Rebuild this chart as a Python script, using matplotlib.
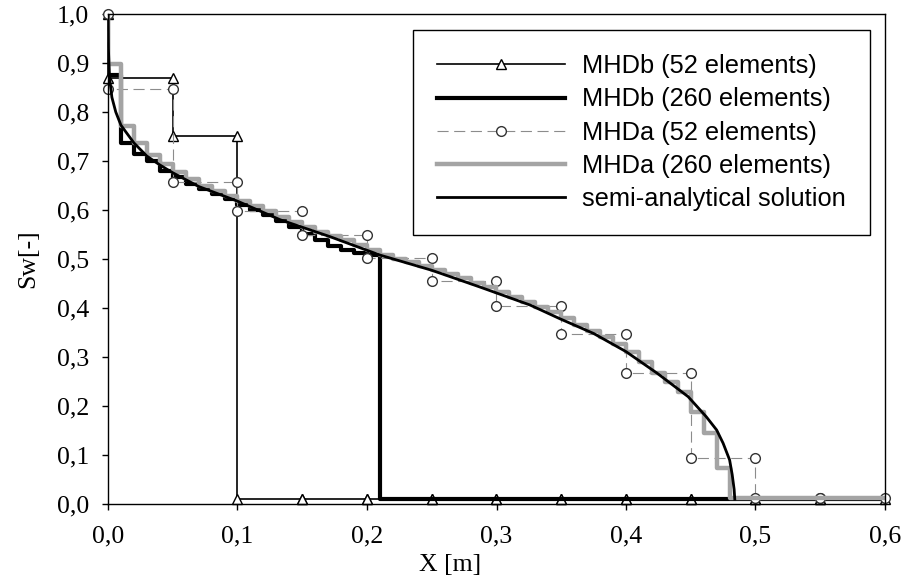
import matplotlib
matplotlib.use("Agg")
import matplotlib.pyplot as plt
from matplotlib.ticker import FuncFormatter
import numpy as np

# --- data ---
# coarse grid (52 elements), only the part 0..0.6 m is shown
x_coarse = np.linspace(0.0, 0.6, 13)
mhdb_52 = [0.870, 0.751] + [0.01] * 10
mhda_52 = [0.846, 0.658, 0.597, 0.548, 0.502, 0.456, 0.405, 0.347, 0.268, 0.094, 0.012, 0.012]

# fine grid (260 elements)
x_fine = np.linspace(0.0, 0.6, 61)
mhdb_260 = [0.875, 0.736, 0.714, 0.699, 0.680, 0.668, 0.654, 0.642, 0.632, 0.622,
            0.611, 0.600, 0.589, 0.578, 0.566, 0.552, 0.538, 0.527, 0.519, 0.513,
            0.508] + [0.01] * 39
mhda_260 = [0.898, 0.771, 0.736, 0.712, 0.694, 0.678, 0.663, 0.650, 0.639, 0.629,
            0.619, 0.608, 0.597, 0.586, 0.576, 0.566, 0.556, 0.547, 0.538, 0.528,
            0.518, 0.509, 0.501, 0.494, 0.486, 0.478, 0.470, 0.461, 0.452, 0.442,
            0.433, 0.423, 0.413, 0.403, 0.391, 0.379, 0.366, 0.354, 0.341, 0.327,
            0.310, 0.290, 0.267, 0.250, 0.229, 0.188, 0.144, 0.073] + [0.012] * 12
s_inlet = 1.0

# semi-analytical solution
sa_x = [0.0, 0.0003, 0.0012, 0.003, 0.006, 0.01, 0.02, 0.03, 0.04, 0.05, 0.07, 0.10,
        0.133, 0.171, 0.21, 0.25, 0.287, 0.326, 0.349, 0.375, 0.40, 0.424, 0.448,
        0.462, 0.470, 0.475, 0.480, 0.482, 0.4835, 0.484]
sa_y = [1.0, 0.93, 0.87, 0.83, 0.80, 0.773, 0.737, 0.710, 0.692, 0.676, 0.648, 0.618,
        0.580, 0.546, 0.508, 0.477, 0.443, 0.406, 0.378, 0.348, 0.311, 0.267, 0.219,
        0.178, 0.151, 0.124, 0.090, 0.060, 0.03, 0.01]


def stairs(edges, vals, start):
    # vertices of a piecewise constant profile, starting with the inlet value
    xs = np.concatenate([[edges[0]], np.repeat(edges, 2)[1:-1]])
    ys = np.concatenate([[start], np.repeat(vals, 2)])
    return xs, ys


fig = plt.figure(figsize=(9.02, 5.82), dpi=100)
ax = fig.add_axes([108 / 902, 1 - 504 / 582, 777 / 902, 490 / 582])

xs, ys = stairs(x_coarse, mhdb_52, s_inlet)
ax.plot(xs, ys, color='black', lw=1.2, marker='^', ms=6.5, mfc='white', mec='black', mew=1,
        label='MHDb (52 elements)', clip_on=False)
xs, ys = stairs(x_fine, mhdb_260, s_inlet)
ax.plot(xs, ys, color='black', lw=3, label='MHDb (260 elements)')
xs, ys = stairs(x_coarse, mhda_52, s_inlet)
ax.plot(xs, ys, color='#8c8c8c', lw=0.8, ls=(0, (10, 5)), marker='o', ms=7, mfc='white',
        mec='#333333', mew=1, label='MHDa (52 elements)', clip_on=False)
xs, ys = stairs(x_fine, mhda_260, s_inlet)
ax.plot(xs, ys, color='#a4a4a4', lw=3.2, label='MHDa (260 elements)')
ax.plot(sa_x, sa_y, color='black', lw=2, label='semi-analytical solution')

ax.set_xlim(0, 0.6)
ax.set_ylim(0, 1.0)
ax.set_xticks(np.arange(0, 0.61, 0.1))
ax.set_yticks(np.arange(0, 1.01, 0.1))
comma = FuncFormatter(lambda v, p: f"{v:.1f}".replace('.', ','))
ax.xaxis.set_major_formatter(comma)
ax.yaxis.set_major_formatter(comma)
ax.tick_params(direction='out', length=4.5, width=1, labelsize=18.5)
ax.tick_params(axis='x', pad=11)
ax.tick_params(axis='y', pad=9)
for lab in ax.get_xticklabels() + ax.get_yticklabels():
    lab.set_family('Liberation Serif')
for sp in ax.spines.values():
    sp.set_linewidth(1)

ax.set_xlabel('X [m]', family='Liberation Serif', fontsize=18.5)
ax.set_ylabel('Sw[-]', family='Liberation Serif', fontsize=18.5)
ax.xaxis.set_label_coords(0.44, -0.102)
ax.yaxis.set_label_coords(-0.088, 0.5)

leg = ax.legend(loc='upper right', bbox_to_anchor=(0.981, 0.967), borderaxespad=0,
                prop={'family': 'Liberation Sans', 'size': 18.3}, handlelength=5.0,
                handletextpad=0.7, borderpad=0.95, labelspacing=0.36, fancybox=False,
                framealpha=1, edgecolor='black')
leg.get_frame().set_linewidth(1)

fig.savefig('out.png', dpi=100)
